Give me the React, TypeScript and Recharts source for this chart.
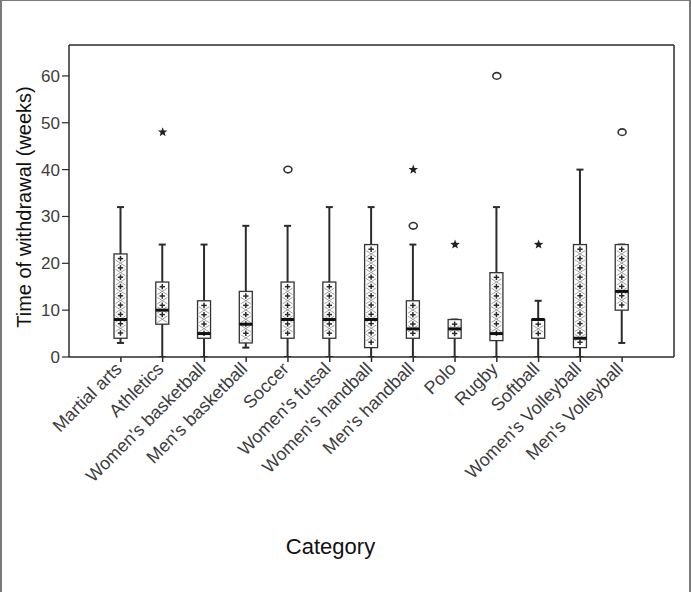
import { Bar, ComposedChart, Label, Scatter, XAxis, YAxis } from "recharts";

const categories = [
  "Martial arts",
  "Athletics",
  "Women's basketball",
  "Men's basketball",
  "Soccer",
  "Women's futsal",
  "Women's handball",
  "Men's handball",
  "Polo",
  "Rugby",
  "Softball",
  "Women's Volleyball",
  "Men's Volleyball",
];
const whiskerLow = [3, 0, 0, 2, 0, 0, 0, 0, 0, 0, 0, 0, 3];
const quartile1 = [4, 7, 4, 3, 4, 4, 2, 4, 4, 3.5, 4, 2, 10];
const medians = [8, 10, 5, 7, 8, 8, 8, 6, 6, 5, 8, 4, 14];
const quartile3 = [22, 16, 12, 14, 16, 16, 24, 12, 8, 18, 8, 24, 24];
const whiskerHigh = [32, 24, 24, 28, 28, 32, 32, 24, 8, 32, 12, 40, 24];
// extreme values (stars) and outliers (circles)
const extremes = [null, 48, null, null, null, null, null, 40, 24, null, 24, null, null];
const outliers = [null, null, null, null, 40, null, null, 28, null, 60, null, null, 48];
const yTicks = [0, 10, 20, 30, 40, 50, 60];

const rows = categories.map((name, i) => ({
  name,
  range: [whiskerLow[i], whiskerHigh[i]],
  q1: quartile1[i],
  median: medians[i],
  q3: quartile3[i],
  star: extremes[i],
  circle: outliers[i],
}));

const font = "'Liberation Sans', Arial, Helvetica, sans-serif";
const ink = "#2b2b2b";

function BoxShape(props: any) {
  const { x, y, width, height, payload } = props;
  if (!payload) return <g />;
  const [lo, hi] = payload.range;
  const top0 = Math.min(y, y + height);
  const h = Math.abs(height);
  const toY = (v: number) => top0 + (h * (hi - v)) / (hi - lo);
  const cx = x + width / 2;
  const wTop = toY(hi);
  const wBot = toY(lo);
  const top = toY(payload.q3);
  const bottom = toY(payload.q1);
  const mid = toY(payload.median);
  const half = width / 2;
  const cap = 3.5;

  const marks = [];
  const step = 9.3;
  for (let py = top + step / 2, k = 0; py < bottom - 2; py += step, k++) {
    marks.push(
      <g key={"p" + k}>
        <line x1={cx - 2.7} x2={cx + 2.7} y1={py} y2={py} />
        <line x1={cx} x2={cx} y1={py - 2.7} y2={py + 2.7} />
      </g>
    );
  }
  const xs = [];
  for (let py = top + step, k = 0; py < bottom - 3; py += step, k++) {
    xs.push(
      <g key={"x" + k}>
        <line x1={cx - half + 1.5} x2={cx + half - 1.5} y1={py - 3.2} y2={py + 3.2} />
        <line x1={cx - half + 1.5} x2={cx + half - 1.5} y1={py + 3.2} y2={py - 3.2} />
      </g>
    );
  }

  return (
    <g>
      <line x1={cx} x2={cx} y1={wTop} y2={wBot} stroke={ink} strokeWidth={2} />
      <line x1={cx - cap} x2={cx + cap} y1={wTop} y2={wTop} stroke={ink} strokeWidth={2} />
      <line x1={cx - cap} x2={cx + cap} y1={wBot} y2={wBot} stroke={ink} strokeWidth={2} />
      <rect x={x} y={top} width={width} height={bottom - top} fill="#fff" stroke="#333" strokeWidth={1.3} />
      <g stroke="#888" strokeWidth={0.8}>{xs}</g>
      <g stroke="#2a2a2a" strokeWidth={1.5}>{marks}</g>
      <line x1={x} x2={x + width} y1={mid} y2={mid} stroke="#111" strokeWidth={3} />
    </g>
  );
}

function StarMark(props: any) {
  const { cx, cy, payload } = props;
  if (payload?.star == null || !isFinite(cy)) return <g />;
  const pts = [];
  for (let i = 0; i < 10; i++) {
    const r = i % 2 === 0 ? 5 : 2.1;
    const a = -Math.PI / 2 + (i * Math.PI) / 5;
    pts.push(`${cx + r * Math.cos(a)},${cy + r * Math.sin(a)}`);
  }
  return <polygon points={pts.join(" ")} fill="#222" />;
}

function CircleMark(props: any) {
  const { cx, cy, payload } = props;
  if (payload?.circle == null || !isFinite(cy)) return <g />;
  return <ellipse cx={cx} cy={cy} rx={4} ry={3.3} fill="#fff" stroke="#333" strokeWidth={1.6} />;
}

function CategoryTick(props: any) {
  const { x, y, payload } = props;
  return (
    <g transform={`translate(${x - 7},${y - 3})`}>
      <text
        transform="rotate(-45)"
        textAnchor="end"
        dy="0.71em"
        fill="#3d3d3d"
        fontSize={18}
        fontFamily={font}
      >
        {payload.value}
      </text>
    </g>
  );
}

export default function App() {
  return (
    <div
      style={{
        position: "absolute",
        left: 0,
        top: 0,
        width: 691,
        height: 592,
        background: "#fff",
        boxSizing: "border-box",
        borderLeft: "2px solid #7a7a7a",
        borderTop: "1px solid #7a7a7a",
        borderRight: "2px solid #7a7a7a",
      }}
    >
      <div style={{ position: "absolute", left: -2, top: -1 }}>
        <ComposedChart
          width={691}
          height={592}
          data={rows}
          margin={{ top: 44, right: 16, bottom: 0, left: 0 }}
          barSize={13}
        >
          <XAxis
            dataKey="name"
            type="category"
            height={235}
            padding={{ left: 31, right: 31 }}
            interval={0}
            tickSize={5}
            tickMargin={2}
            axisLine={{ stroke: ink, strokeWidth: 1.5 }}
            tickLine={{ stroke: ink, strokeWidth: 1.5 }}
            tick={<CategoryTick />}
          >
            <Label
              value="Category"
              position="insideBottom"
              offset={38}
              dx={-41}
              style={{ fill: "#111", fontSize: 22, fontFamily: font }}
            />
          </XAxis>
          <XAxis
            xAxisId="top"
            dataKey="name"
            orientation="top"
            height={1}
            tick={false}
            tickLine={false}
            axisLine={{ stroke: ink, strokeWidth: 1.5 }}
          />
          <YAxis
            type="number"
            domain={[0, 66.6]}
            ticks={yTicks}
            allowDataOverflow
            width={69}
            tickSize={7}
            tickMargin={2}
            axisLine={{ stroke: ink, strokeWidth: 1.5 }}
            tickLine={{ stroke: ink, strokeWidth: 1.2 }}
            tick={{ fill: "#3d3d3d", fontSize: 17, fontFamily: font }}
          >
            <Label
              content={(p: any) => {
                const vb = p.viewBox;
                const lx = vb.x + 31;
                const ly = vb.y + vb.height / 2 + 6;
                return (
                  <text
                    x={lx}
                    y={ly}
                    transform={`rotate(-90, ${lx}, ${ly})`}
                    textAnchor="middle"
                    fill="#111"
                    fontSize={20}
                    fontFamily={font}
                  >
                    Time of withdrawal (weeks)
                  </text>
                );
              }}
            />
          </YAxis>
          <YAxis
            yAxisId="right"
            orientation="right"
            width={1}
            tick={false}
            tickLine={false}
            axisLine={{ stroke: ink, strokeWidth: 1.5 }}
          />
          <Bar dataKey="range" shape={<BoxShape />} isAnimationActive={false} />
          <Scatter dataKey="circle" shape={<CircleMark />} isAnimationActive={false} />
          <Scatter dataKey="star" shape={<StarMark />} isAnimationActive={false} />
        </ComposedChart>
      </div>
    </div>
  );
}
